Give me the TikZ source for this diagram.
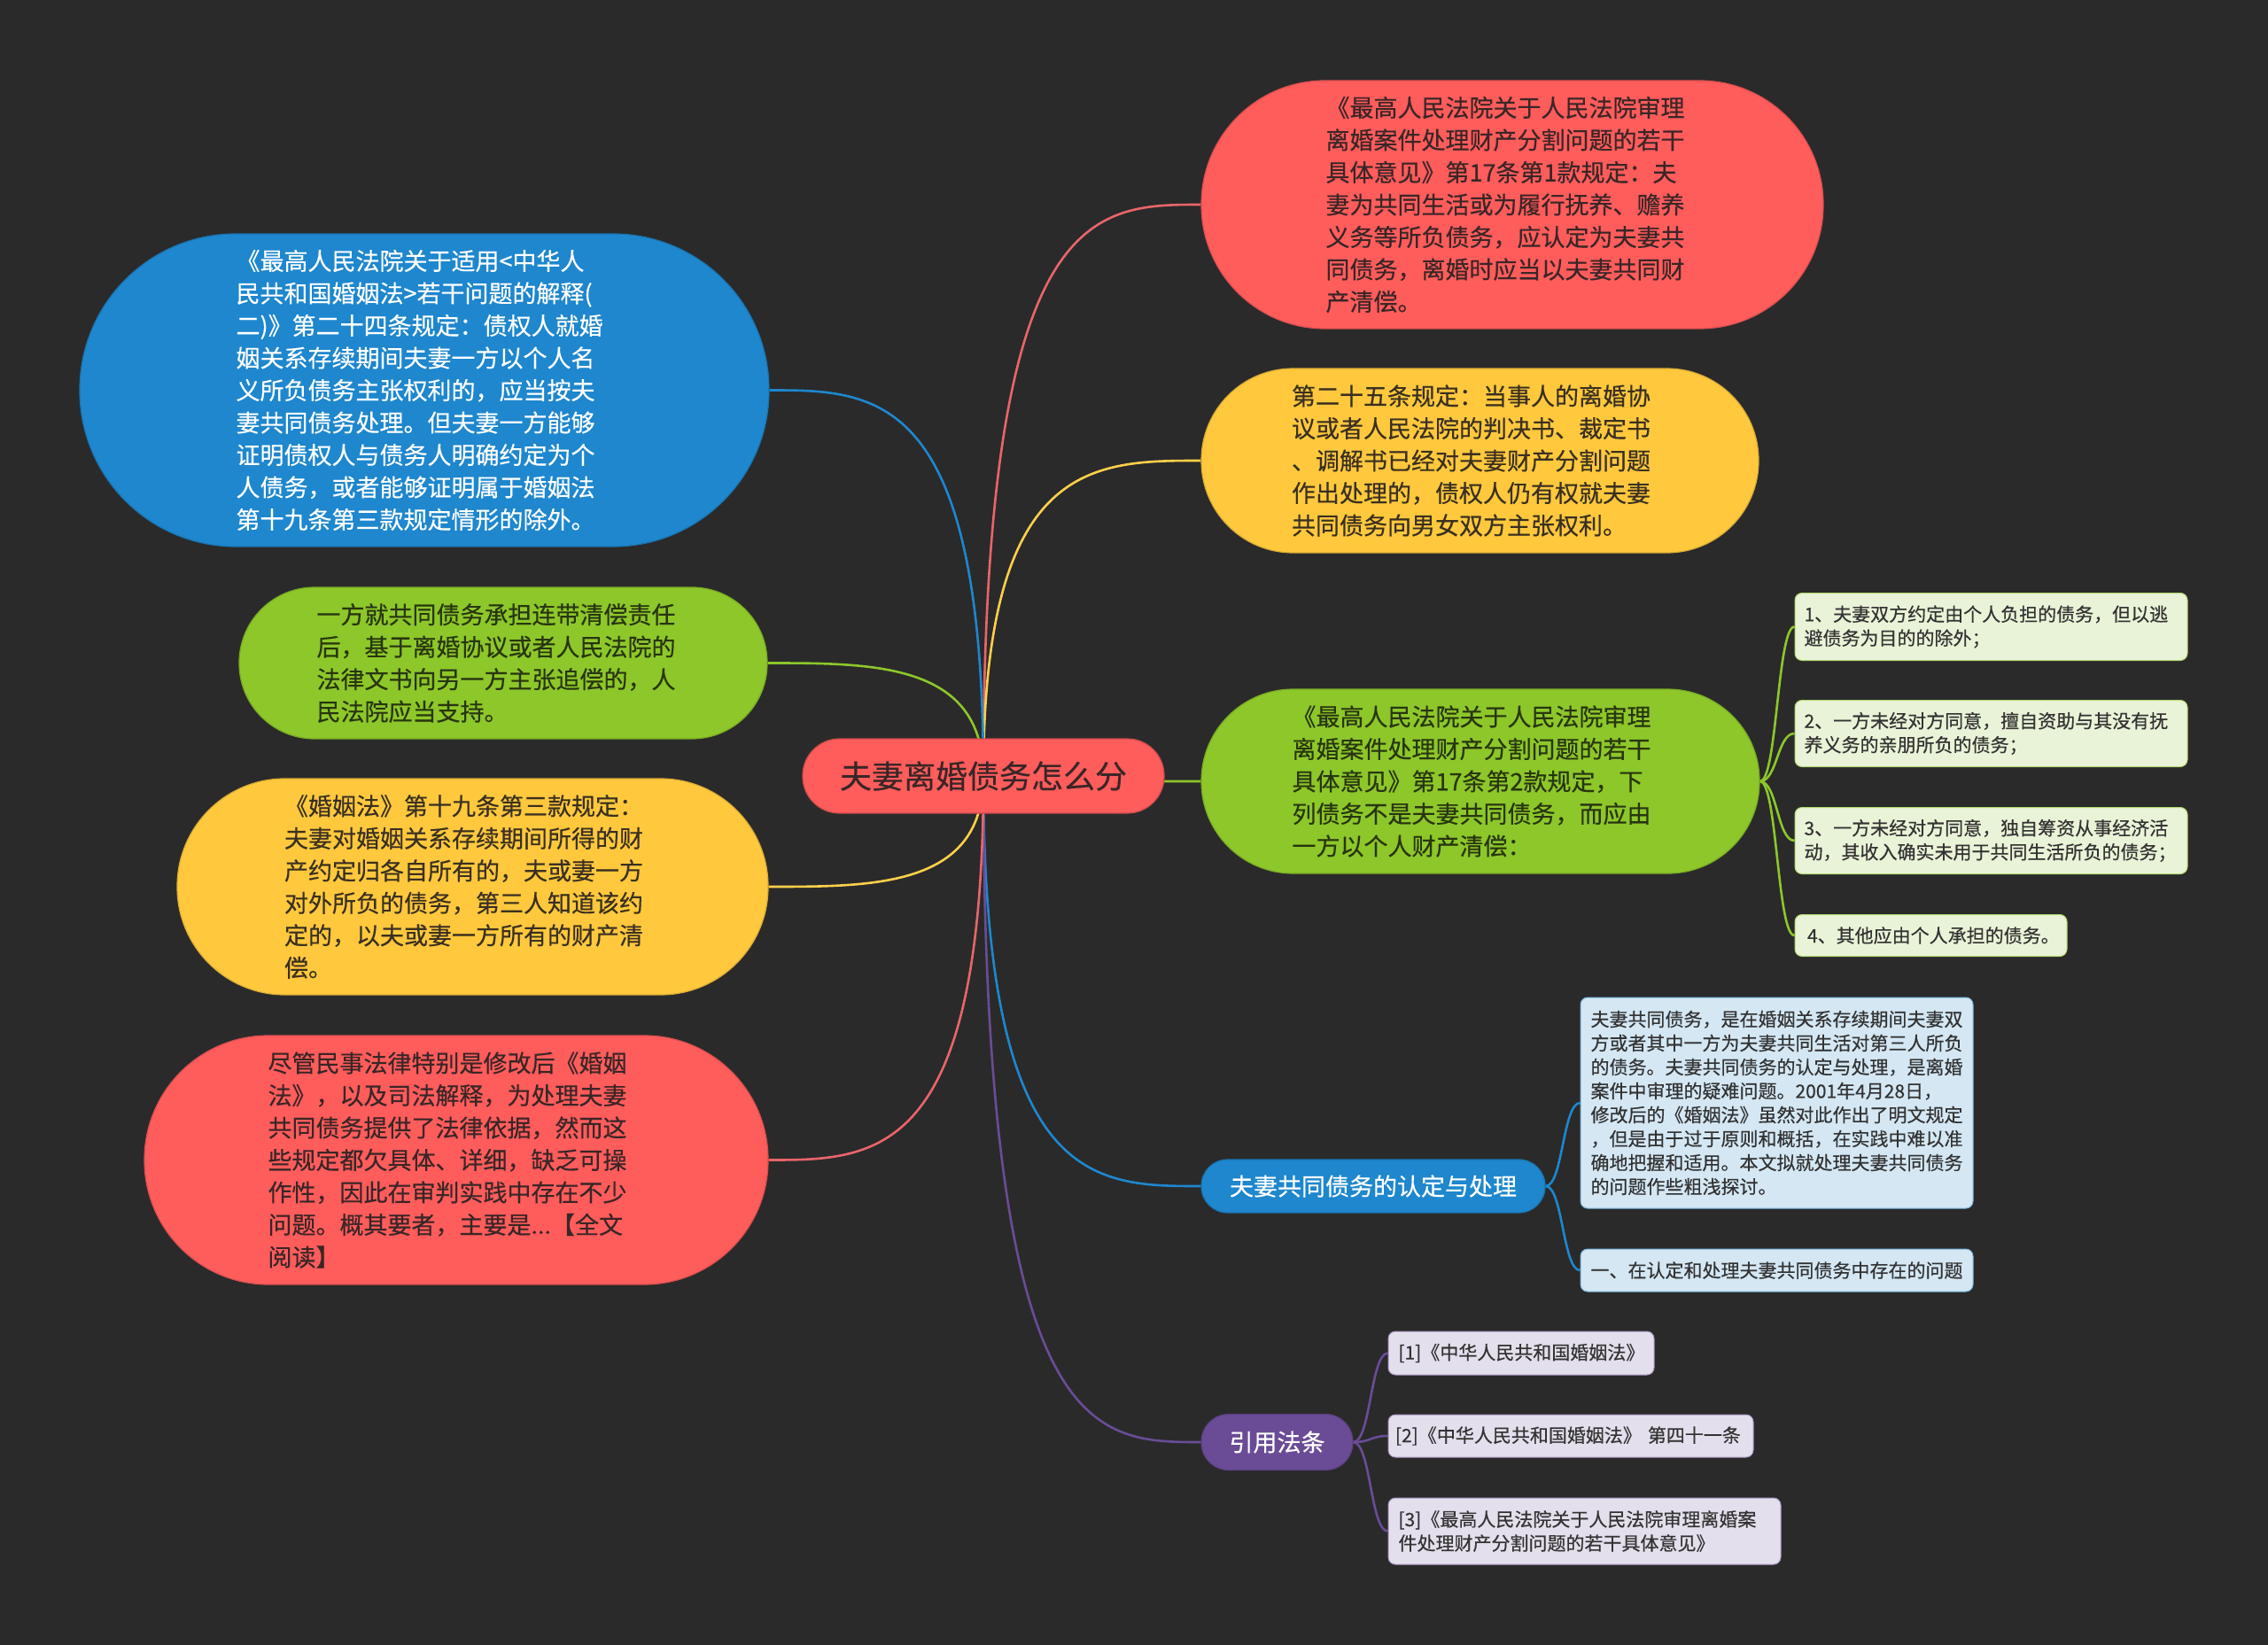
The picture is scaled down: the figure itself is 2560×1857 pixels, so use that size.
\documentclass[tikz,border=0pt]{standalone}
\usepackage{fontspec}
\setmainfont{Noto Sans CJK SC}[FakeBold=0.4]
\usetikzlibrary{calc}
\definecolor{bgc}{HTML}{2A2A2A}
\definecolor{cred}{HTML}{FF5C5C}
\definecolor{credline}{HTML}{E9656A}
\definecolor{cyel}{HTML}{FFC83D}
\definecolor{cyelline}{HTML}{FFD04A}
\definecolor{cgrn}{HTML}{8DC72A}
\definecolor{cblu}{HTML}{1E87CE}
\definecolor{cpur}{HTML}{6A4C96}
\definecolor{tdark}{HTML}{3A2626}
\definecolor{tdarky}{HTML}{3A3020}
\definecolor{tdarkg}{HTML}{28360F}
\definecolor{lgrn}{HTML}{E9F3D7}
\definecolor{lblu}{HTML}{D4E7F3}
\definecolor{lpur}{HTML}{E4DFEC}
\definecolor{ltext}{HTML}{333333}
\pgfdeclarelayer{bgl}
\pgfdeclarelayer{edges}
\pgfsetlayers{bgl,edges,main}
\newcommand{\mmMain}[3]{\draw[#1] (#2) .. controls (#2 |- #3) and ($(#2 |- #3)!0.5!(#3)$) .. (#3);}
\newcommand{\mmSub}[3]{\draw[#1] (#2) .. controls ($(#2)!0.5!(#2 -| #3)$) and ($(#3)!0.5!(#3 -| #2)$) .. (#3);}
\begin{document}
\begin{tikzpicture}[x=1pt,y=-1pt,
  mainnode/.style={align=left, inner sep=0pt, line width=1.2pt, font=\fontsize{27}{36.5}\selectfont},
  leafnode/.style={align=left, inner sep=0pt, line width=1pt, rounded corners=8pt, text=ltext, font=\fontsize{21}{27}\selectfont},
  conn/.style={line width=2.6pt}]
\begin{pgfonlayer}{bgl}
\fill[bgc] (0,0) rectangle (2560,1857);
\end{pgfonlayer}

% central
\node[mainnode, fill=cred, draw=cred!80!black, text=tdark, minimum width=408pt, minimum height=84pt, rounded corners=41.5pt, font=\fontsize{36}{44}\selectfont] (c) at (1110,876) {夫妻离婚债务怎么分};

% right side
\node[mainnode, fill=cred, draw=cred!85!black, text=tdark, minimum width=702pt, minimum height=280pt, rounded corners=139.5pt, text width=421pt] (r1) at (1707,231) {《最高人民法院关于人民法院审理\\离婚案件处理财产分割问题的若干\\具体意见》第17条第1款规定：夫\\妻为共同生活或为履行抚养、赡养\\义务等所负债务，应认定为夫妻共\\同债务，离婚时应当以夫妻共同财\\产清偿。};
\node[mainnode, fill=cyel, draw=cyel!85!black, text=tdarky, minimum width=629pt, minimum height=208pt, rounded corners=103.5pt, text width=425pt] (y1) at (1670.5,520) {第二十五条规定：当事人的离婚协\\议或者人民法院的判决书、裁定书\\、调解书已经对夫妻财产分割问题\\作出处理的，债权人仍有权就夫妻\\共同债务向男女双方主张权利。};
\node[mainnode, fill=cgrn, draw=cgrn!85!black, text=tdarkg, minimum width=630pt, minimum height=208pt, rounded corners=103.5pt, text width=425pt] (g1) at (1671,882) {《最高人民法院关于人民法院审理\\离婚案件处理财产分割问题的若干\\具体意见》第17条第2款规定，下\\列债务不是夫妻共同债务，而应由\\一方以个人财产清偿：};
\node[leafnode, fill=lgrn, draw=cgrn!60!lgrn, minimum width=443pt, minimum height=76pt, text width=422pt] (gl1) at (2247.5,707.5) {1、夫妻双方约定由个人负担的债务，但以逃\\避债务为目的的除外；};
\node[leafnode, fill=lgrn, draw=cgrn!60!lgrn, minimum width=443pt, minimum height=75pt, text width=422pt] (gl2) at (2247.5,828) {2、一方未经对方同意，擅自资助与其没有抚\\养义务的亲朋所负的债务；};
\node[leafnode, fill=lgrn, draw=cgrn!60!lgrn, minimum width=443pt, minimum height=75pt, text width=422pt] (gl3) at (2247.5,949) {3、一方未经对方同意，独自筹资从事经济活\\动，其收入确实未用于共同生活所负的债务；};
\node[leafnode, fill=lgrn, draw=cgrn!60!lgrn, minimum width=307pt, minimum height=47pt, text width=279pt] (gl4) at (2179.5,1056) {4、其他应由个人承担的债务。};

\node[mainnode, fill=cblu, draw=cblu!85!black, text=white, minimum width=388pt, minimum height=60pt, rounded corners=29.5pt] (b1) at (1550,1339) {夫妻共同债务的认定与处理};
\node[leafnode, fill=lblu, draw=cblu!50!lblu, minimum width=443pt, minimum height=238pt] (bl1) at (2005.5,1245) {夫妻共同债务，是在婚姻关系存续期间夫妻双\\方或者其中一方为夫妻共同生活对第三人所负\\的债务。夫妻共同债务的认定与处理，是离婚\\案件中审理的疑难问题。2001年4月28日，\\修改后的《婚姻法》虽然对此作出了明文规定\\，但是由于过于原则和概括，在实践中难以准\\确地把握和适用。本文拟就处理夫妻共同债务\\的问题作些粗浅探讨。};
\node[leafnode, fill=lblu, draw=cblu!50!lblu, minimum width=443pt, minimum height=48pt] (bl2) at (2005.5,1434) {一、在认定和处理夫妻共同债务中存在的问题};

\node[mainnode, fill=cpur, draw=cpur!85!black, text=white, minimum width=171pt, minimum height=63pt, rounded corners=31pt] (p) at (1441.5,1628) {引用法条};
\node[leafnode, fill=lpur, draw=cpur!50!lpur, minimum width=300pt, minimum height=49pt, text width=277pt] (pl1) at (1717,1527.5) {[1]《中华人民共和国婚姻法》};
\node[leafnode, fill=lpur, draw=cpur!50!lpur, minimum width=412pt, minimum height=48pt, text width=396pt] (pl2) at (1773,1621) {[2]《中华人民共和国婚姻法》 第四十一条};
\node[leafnode, fill=lpur, draw=cpur!50!lpur, minimum width=443pt, minimum height=75pt, text width=420pt] (pl3) at (1788.5,1728.5) {[3]《最高人民法院关于人民法院审理离婚案\\件处理财产分割问题的若干具体意见》};

% left side
\node[mainnode, fill=cblu, draw=cblu!85!black, text=white, minimum width=778pt, minimum height=353pt, rounded corners=176pt, text width=425pt] (l1) at (479,440.5) {《最高人民法院关于适用<中华人\\民共和国婚姻法>若干问题的解释(\\二)》第二十四条规定：债权人就婚\\姻关系存续期间夫妻一方以个人名\\义所负债务主张权利的，应当按夫\\妻共同债务处理。但夫妻一方能够\\证明债权人与债务人明确约定为个\\人债务，或者能够证明属于婚姻法\\第十九条第三款规定情形的除外。};
\node[mainnode, fill=cgrn, draw=cgrn!85!black, text=tdarkg, minimum width=596pt, minimum height=171pt, rounded corners=85pt, text width=421pt] (l2) at (568,748.5) {一方就共同债务承担连带清偿责任\\后，基于离婚协议或者人民法院的\\法律文书向另一方主张追偿的，人\\民法院应当支持。};
\node[mainnode, fill=cyel, draw=cyel!85!black, text=tdarky, minimum width=667pt, minimum height=244pt, rounded corners=121.5pt, text width=425pt] (l3) at (533.5,1001) {《婚姻法》第十九条第三款规定：\\夫妻对婚姻关系存续期间所得的财\\产约定归各自所有的，夫或妻一方\\对外所负的债务，第三人知道该约\\定的，以夫或妻一方所有的财产清\\偿。};
\node[mainnode, fill=cred, draw=cred!85!black, text=tdark, minimum width=704pt, minimum height=281pt, rounded corners=140pt, text width=425pt] (l4) at (515,1309.5) {尽管民事法律特别是修改后《婚姻\\法》，以及司法解释，为处理夫妻\\共同债务提供了法律依据，然而这\\些规定都欠具体、详细，缺乏可操\\作性，因此在审判实践中存在不少\\问题。概其要者，主要是...【全文\\阅读】};

\begin{pgfonlayer}{edges}
\mmMain{conn, credline}{c.center}{r1.west}
\mmMain{conn, cyelline}{c.center}{y1.west}
\mmMain{conn, cgrn}{c.center}{g1.west}
\mmMain{conn, cblu}{c.center}{b1.west}
\mmMain{conn, cpur}{c.center}{p.west}
\mmMain{conn, cblu}{c.center}{l1.east}
\mmMain{conn, cgrn}{c.center}{l2.east}
\mmMain{conn, cyelline}{c.center}{l3.east}
\mmMain{conn, credline}{c.center}{l4.east}
\mmSub{conn, cgrn}{g1.east}{gl1.west}
\mmSub{conn, cgrn}{g1.east}{gl2.west}
\mmSub{conn, cgrn}{g1.east}{gl3.west}
\mmSub{conn, cgrn}{g1.east}{gl4.west}
\mmSub{conn, cblu}{b1.east}{bl1.west}
\mmSub{conn, cblu}{b1.east}{bl2.west}
\mmSub{conn, cpur}{p.east}{pl1.west}
\mmSub{conn, cpur}{p.east}{pl2.west}
\mmSub{conn, cpur}{p.east}{pl3.west}
\end{pgfonlayer}
\end{tikzpicture}
\end{document}
